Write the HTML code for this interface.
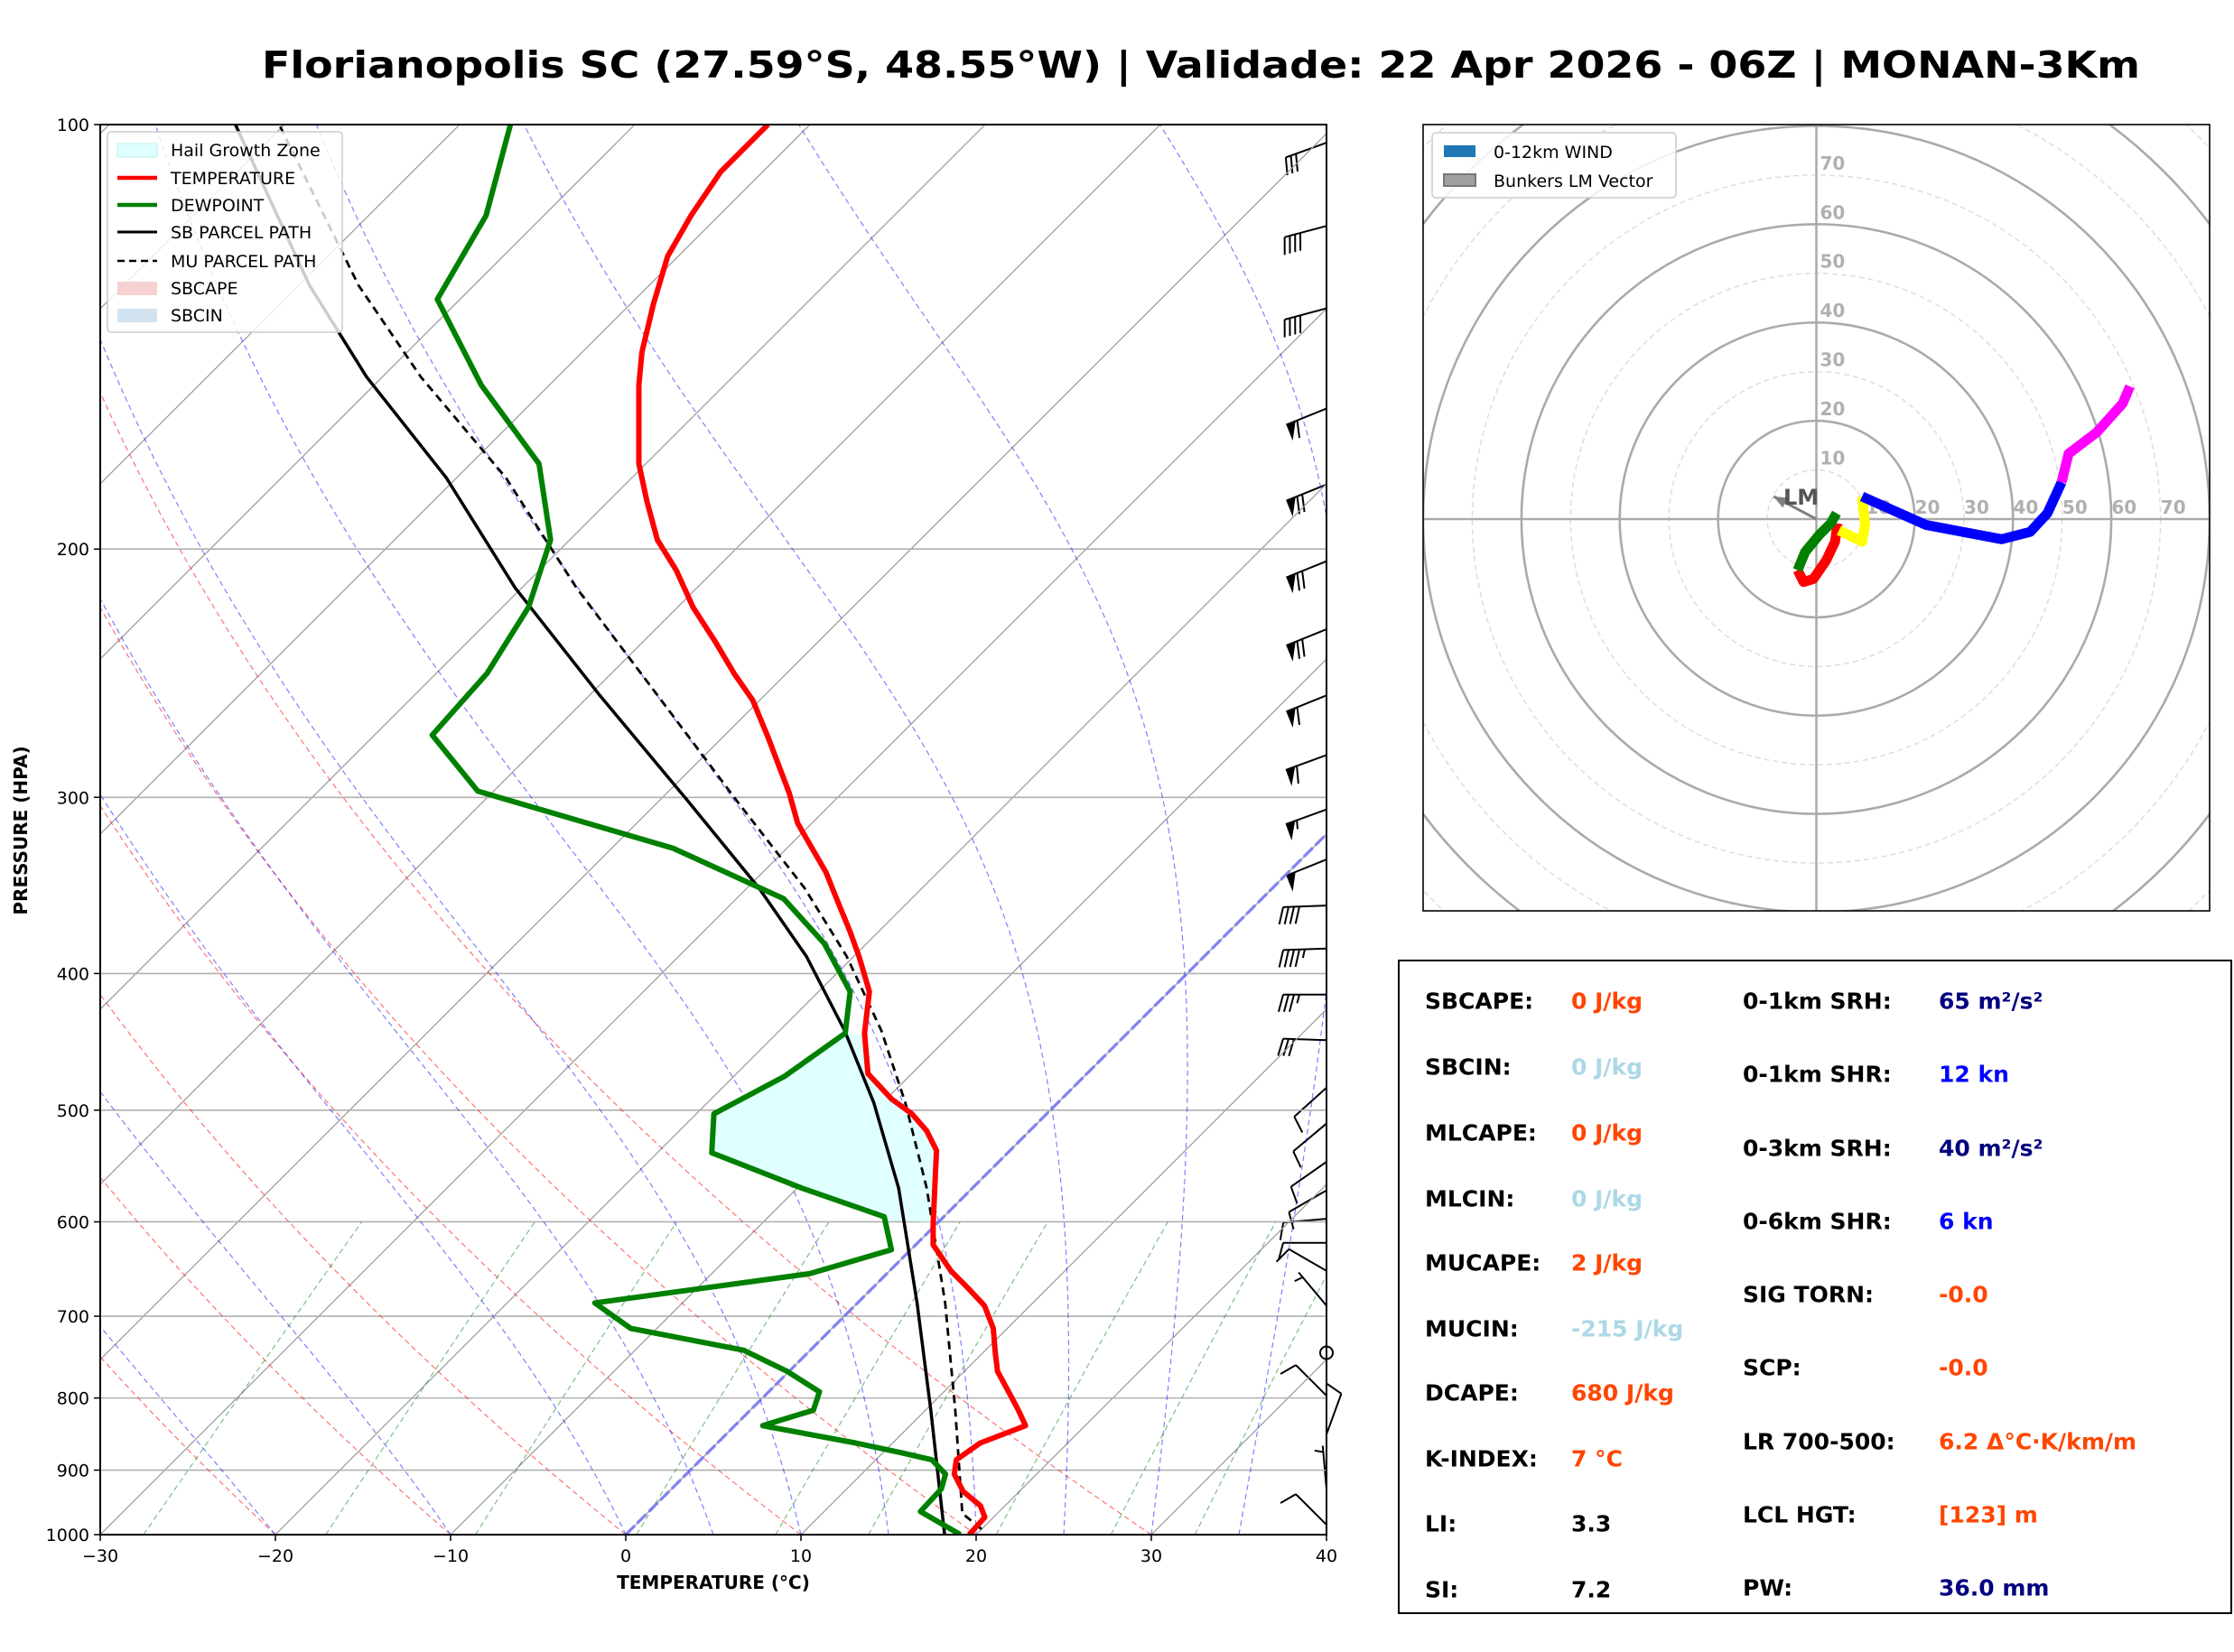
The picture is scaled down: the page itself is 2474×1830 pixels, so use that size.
<!DOCTYPE html>
<html><head><meta charset="utf-8"><style>
html,body{margin:0;padding:0;background:#fff;}
svg{display:block;font-family:"DejaVu Sans","Liberation Sans",sans-serif;}
</style></head><body>
<svg id="fig" width="2474" height="1830" viewBox="0 0 2474 1830" xmlns="http://www.w3.org/2000/svg">
<defs><clipPath id="skclip"><rect x="111" y="138" width="1358" height="1562"/></clipPath>
<clipPath id="hclip"><rect x="1576" y="138" width="871" height="871"/></clipPath></defs>
<text x="1330" y="86" text-anchor="middle" font-size="41" font-weight="bold" textLength="2080" lengthAdjust="spacingAndGlyphs">Florianopolis SC (27.59°S, 48.55°W) | Validade: 22 Apr 2026 - 06Z | MONAN-3Km</text>
<g id="skew"></g>
<g id="skewClip" clip-path="url(#skclip)"></g>
<rect x="111" y="138" width="1358" height="1562" fill="none" stroke="#000" stroke-width="2"/>
<g id="axes"></g>
<text x="790" y="1760" text-anchor="middle" font-size="20" font-weight="bold">TEMPERATURE (°C)</text>
<text transform="translate(30,920) rotate(-90)" text-anchor="middle" font-size="20" font-weight="bold">PRESSURE (HPA)</text>
<g>
<rect x="119" y="146" width="260" height="222" fill="#fff" fill-opacity="0.8" stroke="#ccc" stroke-width="1.5" rx="4"/>
<rect x="130" y="159" width="44" height="15" fill="#e0ffff" stroke="#b8f0f0"/>
<text x="189" y="173" font-size="19">Hail Growth Zone</text>
<line x1="130" y1="197" x2="174" y2="197" stroke="#ff0000" stroke-width="4.5"/>
<text x="189" y="204" font-size="19">TEMPERATURE</text>
<line x1="130" y1="227" x2="174" y2="227" stroke="#008000" stroke-width="4.5"/>
<text x="189" y="234" font-size="19">DEWPOINT</text>
<line x1="130" y1="257" x2="174" y2="257" stroke="#000" stroke-width="3"/>
<text x="189" y="264" font-size="19">SB PARCEL PATH</text>
<line x1="130" y1="289" x2="174" y2="289" stroke="#000" stroke-width="2.5" stroke-dasharray="8,5"/>
<text x="189" y="296" font-size="19">MU PARCEL PATH</text>
<rect x="130" y="312" width="44" height="15" fill="#f4c6c6" fill-opacity="0.8"/>
<text x="189" y="326" font-size="19">SBCAPE</text>
<rect x="130" y="342" width="44" height="15" fill="#c6dcec" fill-opacity="0.8"/>
<text x="189" y="356" font-size="19">SBCIN</text>
</g>
<g id="hodo" clip-path="url(#hclip)"></g>
<rect x="1576" y="138" width="871" height="871" fill="none" stroke="#000" stroke-width="1.6"/>
<g>
<rect x="1586" y="147" width="270" height="72" fill="#fff" fill-opacity="0.85" stroke="#ccc" stroke-width="1.5" rx="4"/>
<rect x="1599" y="161" width="35" height="13" fill="#1f77b4"/>
<text x="1654" y="175" font-size="19">0-12km WIND</text>
<rect x="1599" y="193" width="35" height="13" fill="#a0a0a0" stroke="#777" stroke-width="2"/>
<text x="1654" y="207" font-size="19">Bunkers LM Vector</text>
</g>
<g font-size="25" font-weight="bold" dominant-baseline="central">
<rect x="1549" y="1064" width="922" height="723" fill="#fff" stroke="#000" stroke-width="2"/>
<text x="1578" y="1109" fill="#000">SBCAPE:</text><text x="1740" y="1109" fill="#ff4500">0 J/kg</text>
<text x="1578" y="1182" fill="#000">SBCIN:</text><text x="1740" y="1182" fill="#add8e6">0 J/kg</text>
<text x="1578" y="1255" fill="#000">MLCAPE:</text><text x="1740" y="1255" fill="#ff4500">0 J/kg</text>
<text x="1578" y="1328" fill="#000">MLCIN:</text><text x="1740" y="1328" fill="#add8e6">0 J/kg</text>
<text x="1578" y="1399" fill="#000">MUCAPE:</text><text x="1740" y="1399" fill="#ff4500">2 J/kg</text>
<text x="1578" y="1472" fill="#000">MUCIN:</text><text x="1740" y="1472" fill="#add8e6">-215 J/kg</text>
<text x="1578" y="1543" fill="#000">DCAPE:</text><text x="1740" y="1543" fill="#ff4500">680 J/kg</text>
<text x="1578" y="1616" fill="#000">K-INDEX:</text><text x="1740" y="1616" fill="#ff4500">7 °C</text>
<text x="1578" y="1688" fill="#000">LI:</text><text x="1740" y="1688" fill="#000">3.3</text>
<text x="1578" y="1761" fill="#000">SI:</text><text x="1740" y="1761" fill="#000">7.2</text>
<text x="1930" y="1109" fill="#000">0-1km SRH:</text><text x="2147" y="1109" fill="#000080">65 m²/s²</text>
<text x="1930" y="1190" fill="#000">0-1km SHR:</text><text x="2147" y="1190" fill="#0000ff">12 kn</text>
<text x="1930" y="1272" fill="#000">0-3km SRH:</text><text x="2147" y="1272" fill="#000080">40 m²/s²</text>
<text x="1930" y="1353" fill="#000">0-6km SHR:</text><text x="2147" y="1353" fill="#0000ff">6 kn</text>
<text x="1930" y="1434" fill="#000">SIG TORN:</text><text x="2147" y="1434" fill="#ff4500">-0.0</text>
<text x="1930" y="1515" fill="#000">SCP:</text><text x="2147" y="1515" fill="#ff4500">-0.0</text>
<text x="1930" y="1597" fill="#000">LR 700-500:</text><text x="2147" y="1597" fill="#ff4500">6.2 Δ°C·K/km/m</text>
<text x="1930" y="1678" fill="#000">LCL HGT:</text><text x="2147" y="1678" fill="#ff4500">[123] m</text>
<text x="1930" y="1759" fill="#000">PW:</text><text x="2147" y="1759" fill="#000080">36.0 mm</text>
</g>
</svg>
<script>
// ---- sounding data ----
const tempP = [1000,972,954,932,906,885,861,837,816,792,766,741,714,688,669,650,623,602,534,517,503,491,471,441,412,389,373,356,339,324,313,298,272,256,245,233,220,207,197,185,174,153,145,134,124,116,108,100];
const tempT = [19.6,19.5,18.6,16.8,15.3,14.6,15.0,16.6,15.3,13.7,11.9,10.6,9.2,7.4,5.5,3.5,1.0,-0.2,-4.2,-5.9,-7.7,-9.7,-12.5,-15.0,-17.1,-19.7,-21.7,-24.0,-26.4,-28.9,-30.8,-33.0,-37.4,-40.4,-43.0,-45.8,-49.1,-52.2,-55.0,-57.8,-60.4,-64.9,-66.6,-68.7,-70.6,-71.6,-72.4,-72.4];
const dewP = [1000,963,928,906,885,875,861,837,816,792,766,740,714,685,653,628,595,568,536,503,473,441,412,381,354,326,297,271,245,220,197,174,153,133,116,100];
const dewT = [19.1,15.5,15.4,14.8,13.2,11.1,7.9,1.6,3.6,2.9,-0.1,-3.8,-11.5,-15.0,-4.4,-1.1,-3.4,-9.7,-16.9,-19.0,-17.1,-16.1,-18.2,-22.4,-27.3,-36.5,-50.9,-56.7,-57.1,-58.5,-61.1,-66.1,-73.9,-81.3,-83.3,-87.1];
const sbP = [1000,816,685,568,494,439,389,348,302,254,213,178,151,130,100];
const sbT = [18.2,10.3,3.4,-4.2,-10.5,-16.3,-22.7,-29.3,-38.3,-49.4,-60.4,-70.6,-80.9,-89.4,-102.8];
const muP = [991,966,816,685,568,494,439,389,348,302,254,213,178,151,130,100];
const muT = [20.0,18.0,11.7,5.0,-2.6,-8.7,-14.2,-20.4,-26.7,-35.5,-46.1,-56.9,-67.2,-77.8,-86.6,-100.3];
const hailTop = 441, hailBottom = 600;
const pTicks = [100,200,300,400,500,600,700,800,900,1000];
const tTicks = [-30,-20,-10,0,10,20,30,40];
const dryTheta = [-30,-20,-10,0,10,20,30];
const moistT0 = [-30,-20,-10,0,5,10,15,20,25,30,35];
const mixRatios = [0.0004,0.001,0.002,0.004,0.007,0.01,0.016,0.024,0.032];
const barbP = [103,118,135,159,180,204,228,254,280,306,332,358,384,414,446,482,511,544,570,597,621,650,688,743,797,849,928,984];
const barbDir = [250,255,255,248,248,248,248,248,250,250,248,268,268,270,272,228,230,235,240,265,270,300,320,0,315,20,355,315];
const barbSpd = [30,40,40,60,70,70,70,60,60,55,50,40,45,35,30,10,10,10,10,10,10,10,5,0,10,10,5,10];
// ---- hodograph data (kt) ----
const hodoRedU = [4.3,3.8,2.0,-0.6,-2.6,-3.8];
const hodoRedV = [-0.9,-4.6,-8.4,-12.2,-12.8,-10.4];
const hodoGreenU = [-3.8,-2.3,0.6,2.9,4.1];
const hodoGreenV = [-10.4,-6.7,-3.2,-0.9,1.2];
const hodoYellowU = [4.6,9.3,9.9,9.3];
const hodoYellowV = [-2.3,-4.6,-1.2,4.6];
const hodoBlueU = [9.3,22.3,37.7,43.5,47.0,49.9];
const hodoBlueV = [4.6,-1.2,-4.1,-2.6,1.2,7.5];
const hodoMagU = [49.9,51.3,57.1,62.3,63.8];
const hodoMagV = [7.5,13.3,17.7,23.5,27.0];
const lmU = -8.7, lmV = 4.6;
const ringKt = [10,20,30,40,50,60,70,80,90,100,110,120];

const NS = 'http://www.w3.org/2000/svg';
const X0 = 111, X1 = 1469, Y0 = 138, Y1 = 1700, PXD = (X1 - X0) / 70;
function yOf(p){ return Y1 - Math.log10(1000 / p) * (Y1 - Y0); }
function xOf(t, p){ return X0 + (t + 30) * PXD + (Y1 - yOf(p)); }
function el(tag, attrs, parent){ const e = document.createElementNS(NS, tag); for (const k in attrs) e.setAttribute(k, attrs[k]); parent.appendChild(e); return e; }
const gSk = document.getElementById('skewClip');
const gAx = document.getElementById('axes');
function ptsFrom(P, T){ return P.map((p, i) => xOf(T[i], p).toFixed(1) + ',' + yOf(p).toFixed(1)).join(' '); }

for (let t = -160; t <= 40; t += 10) {
  const l = el('line', {x1: xOf(t, 1000), y1: Y1, x2: xOf(t, 100), y2: Y0, stroke: '#999', 'stroke-width': 1.2}, gSk);
  
  
}
pTicks.forEach(p => {
  const l = el('line', {x1: X0, y1: yOf(p), x2: X1, y2: yOf(p), stroke: '#b0b0b0', 'stroke-width': 1.6}, gSk);
  
  
});
dryTheta.forEach(th => {
  const pts = [];
  for (let p = 1000; p >= 100; p -= 10) { const t = (th + 273.15) * Math.pow(p / 1000, 0.2857) - 273.15; pts.push(xOf(t, p).toFixed(1) + ',' + yOf(p).toFixed(1)); }
  const l = el('polyline', {points: pts.join(' '), fill: 'none', stroke: '#ff0000', 'stroke-opacity': 0.55, 'stroke-width': 1.2, 'stroke-dasharray': '6,4'}, gSk);
  
  
});
moistT0.forEach(t0 => {
  let T = t0 + 273.15; const pts = [];
  for (let p = 1000; p >= 100; p -= 5) {
    pts.push(xOf(T - 273.15, p).toFixed(1) + ',' + yOf(p).toFixed(1));
    const tc = T - 273.15, es = 6.112 * Math.exp(17.67 * tc / (tc + 243.5)), rs = 0.622 * es / (p - es);
    const d = (287 * T + 2.501e6 * rs) / (1005 + 2.501e6 * 2.501e6 * rs * 0.622 / (287 * T * T)) / p;
    T += d * -5;
  }
  const l = el('polyline', {points: pts.join(' '), fill: 'none', stroke: '#0000ff', 'stroke-opacity': 0.5, 'stroke-width': 1.2, 'stroke-dasharray': '6,4'}, gSk);
  
  
});
mixRatios.forEach(w => {
  const pts = [];
  for (let p = 1000; p >= 600; p -= 20) { const e = w * p / (0.622 + w), le = Math.log(e / 6.112), td = 243.5 * le / (17.67 - le); pts.push(xOf(td, p).toFixed(1) + ',' + yOf(p).toFixed(1)); }
  const l = el('polyline', {points: pts.join(' '), fill: 'none', stroke: '#008000', 'stroke-opacity': 0.5, 'stroke-width': 1.2, 'stroke-dasharray': '6,4'}, gSk);
  
  
});
const zi = el('line', {x1: xOf(0, 1000), y1: Y1, x2: xOf(0, 100), y2: Y0, stroke: '#6666ff', 'stroke-opacity': 0.7, 'stroke-width': 3.5, 'stroke-dasharray': '14,4'}, gSk);


function interp(P, T, p){ for (let i = 0; i < P.length - 1; i++) { if ((P[i] >= p && P[i+1] <= p)) { const f = Math.log(P[i] / p) / Math.log(P[i] / P[i+1]); return T[i] + f * (T[i+1] - T[i]); } } return T[T.length - 1]; }
const hz = [];
for (let p = hailBottom; p >= hailTop; p -= 2) hz.push(xOf(interp(tempP, tempT, p), p).toFixed(1) + ',' + yOf(p).toFixed(1));
for (let p = hailTop; p <= hailBottom; p += 2) hz.push(xOf(interp(dewP, dewT, p), p).toFixed(1) + ',' + yOf(p).toFixed(1));
const hzEl = el('polygon', {points: hz.join(' '), fill: '#e0ffff', stroke: 'none'}, gSk);


const sb = el('polyline', {points: ptsFrom(sbP, sbT), fill: 'none', stroke: '#000', 'stroke-width': 3.5, 'stroke-linejoin': 'round'}, gSk);


const mu = el('polyline', {points: ptsFrom(muP, muT), fill: 'none', stroke: '#000', 'stroke-width': 2.8, 'stroke-dasharray': '9,6'}, gSk);


const dw = el('polyline', {points: ptsFrom(dewP, dewT), fill: 'none', stroke: '#008000', 'stroke-width': 6, 'stroke-linejoin': 'round'}, gSk);


const tl = el('polyline', {points: ptsFrom(tempP, tempT), fill: 'none', stroke: '#ff0000', 'stroke-width': 6, 'stroke-linejoin': 'round'}, gSk);


pTicks.forEach(p => {
  const tk = el('line', {x1: X0 - 7, y1: yOf(p), x2: X0, y2: yOf(p), stroke: '#000', 'stroke-width': 1.5}, gAx);
  
  
  const tx = el('text', {x: X0 - 12, y: yOf(p) + 7, 'text-anchor': 'end', 'font-size': 19}, gAx);
  tx.textContent = p;
  
  
});
tTicks.forEach(t => {
  const x = X0 + (t + 30) * PXD;
  const tk = el('line', {x1: x, y1: Y1, x2: x, y2: Y1 + 7, stroke: '#000', 'stroke-width': 1.5}, gAx);
  
  
  const tx = el('text', {x: x, y: Y1 + 30, 'text-anchor': 'middle', 'font-size': 19}, gAx);
  tx.textContent = (t < 0 ? '\u2212' + (-t) : t);
  
  
});
const gB = document.getElementById('skew');
barbP.forEach((p, i) => {
  const ax = X1, ay = yOf(p), spd = barbSpd[i], r = barbDir[i] * Math.PI / 180;
  const g = el('g', {}, gB);
  
  
  if (spd < 2.5) { el('circle', {cx: ax, cy: ay, r: 7, fill: 'none', stroke: '#000', 'stroke-width': 2}, g); return; }
  const dx = Math.sin(r), dy = -Math.cos(r), L = 48, h = 19;
  const tx = ax + dx * L, ty = ay + dy * L, px = dy, py = -dx;
  el('line', {x1: ax, y1: ay, x2: tx, y2: ty, stroke: '#000', 'stroke-width': 2}, g);
  let s = Math.round(spd / 5) * 5, pos = 0;
  const n50 = Math.floor(s / 50); s -= n50 * 50; const n10 = Math.floor(s / 10); s -= n10 * 10; const n5 = s >= 5 ? 1 : 0;
  for (let k = 0; k < n50; k++) {
    const sx = tx - dx * pos, sy = ty - dy * pos;
    el('polygon', {points: [sx, sy, sx + px * h, sy + py * h, sx - dx * 11, sy - dy * 11].join(','), fill: '#000'}, g);
    pos += 13;
  }
  if (n50 === 0 && n10 === 0) pos = 7;
  for (let k = 0; k < n10; k++) {
    const sx = tx - dx * pos, sy = ty - dy * pos;
    el('line', {x1: sx, y1: sy, x2: sx + px * h + dx * 5, y2: sy + py * h + dy * 5, stroke: '#000', 'stroke-width': 2}, g);
    pos += 6;
  }
  if (n5) {
    const sx = tx - dx * pos, sy = ty - dy * pos;
    el('line', {x1: sx, y1: sy, x2: sx + px * h / 2 + dx * 2.5, y2: sy + py * h / 2 + dy * 2.5, stroke: '#000', 'stroke-width': 2}, g);
  }
});
// ---- hodograph ----
const gH = document.getElementById('hodo');
const HCX = 2011.5, HCY = 575, KT = 435.5 / 80;
ringKt.forEach(k => {
  const c = el('circle', {cx: HCX, cy: HCY, r: k * KT, fill: 'none', stroke: k % 20 === 0 ? '#aaa' : '#ddd', 'stroke-width': k % 20 === 0 ? 2.6 : 1.5, 'stroke-dasharray': k % 20 === 0 ? 'none' : '6,4'}, gH);
  
  
});
const hx = el('line', {x1: 1576, y1: HCY, x2: 2447, y2: HCY, stroke: '#aaa', 'stroke-width': 2.5}, gH);


const hy = el('line', {x1: HCX, y1: 138, x2: HCX, y2: 1009, stroke: '#aaa', 'stroke-width': 2.5}, gH);


[10,20,30,40,50,60,70].forEach(k => {
  const a = el('text', {x: HCX + (k + 2.6) * KT, y: HCY - 6, 'text-anchor': 'middle', 'font-size': 20, 'font-weight': 'bold', fill: '#b0b0b0'}, gH);
  a.textContent = k;
  
  
  const b = el('text', {x: HCX + 4, y: HCY - (k + 2.4) * KT + 7, 'text-anchor': 'start', 'font-size': 20, 'font-weight': 'bold', fill: '#b0b0b0'}, gH);
  b.textContent = k;
  
  
});
const lx = HCX + lmU * KT, ly = HCY - lmV * KT;
const lmLine = el('line', {x1: HCX, y1: HCY, x2: lx, y2: ly, stroke: '#808080', 'stroke-width': 3}, gH);


const ang = Math.atan2(ly - HCY, lx - HCX);
const ah = el('polygon', {points: [lx, ly, lx - 16 * Math.cos(ang - 0.4), ly - 16 * Math.sin(ang - 0.4), lx - 16 * Math.cos(ang + 0.4), ly - 16 * Math.sin(ang + 0.4)].join(','), fill: '#808080'}, gH);


const lmT = el('text', {x: 1975, y: 559, 'font-size': 24, 'font-weight': 'bold', fill: '#555'}, gH);
lmT.textContent = 'LM';


function hodoSeg(U, V, col){
  const pts = U.map((u, i) => (HCX + u * KT).toFixed(1) + ',' + (HCY - V[i] * KT).toFixed(1)).join(' ');
  return el('polyline', {points: pts, fill: 'none', stroke: col, 'stroke-width': 11, 'stroke-linejoin': 'round'}, gH);
}
const s1 = hodoSeg(hodoRedU, hodoRedV, '#ff0000');


const s2 = hodoSeg(hodoGreenU, hodoGreenV, '#008000');


const s3 = hodoSeg(hodoYellowU, hodoYellowV, '#ffff00');


const s4 = hodoSeg(hodoBlueU, hodoBlueV, '#0000ff');


const s5 = hodoSeg(hodoMagU, hodoMagV, '#ff00ff');


</script>
</body></html>
